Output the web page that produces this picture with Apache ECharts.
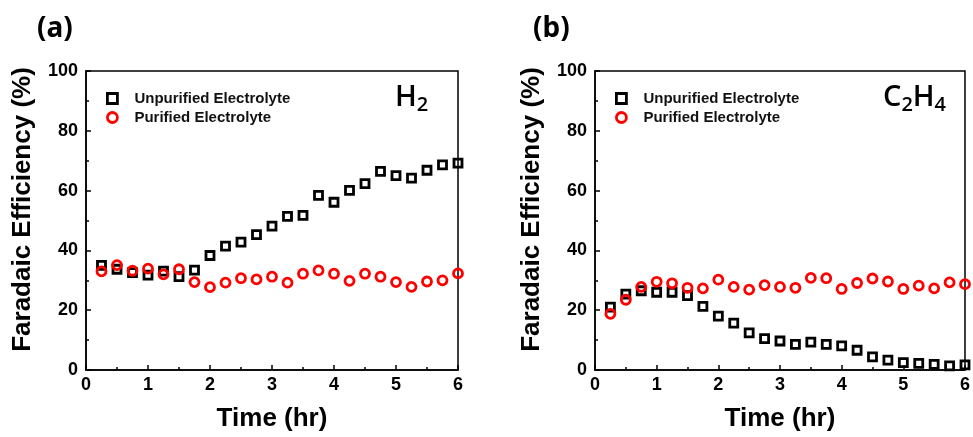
<!DOCTYPE html>
<html>
<head>
<meta charset="utf-8">
<script src="https://cdn.jsdelivr.net/npm/echarts@6/dist/echarts.min.js"></script>
<style>html,body{margin:0;padding:0;background:#fff}#c{width:973px;height:437px}</style>
</head>
<body>
<div id="c"></div>
<script>
const timeHr = [0.25,0.5,0.75,1.0,1.25,1.5,1.75,2.0,2.25,2.5,2.75,3.0,3.25,3.5,3.75,4.0,4.25,4.5,4.75,5.0,5.25,5.5,5.75,6.0];
const h2Unpurified = [35.0,33.7,32.6,31.7,33.1,31.2,33.4,38.3,41.4,42.8,45.3,48.1,51.4,51.7,58.4,56.1,60.1,62.3,66.4,65.0,64.2,66.8,68.6,69.2];
const h2Purified = [33.0,35.1,33.2,33.9,32.0,33.7,29.4,27.7,29.2,30.7,30.3,31.2,29.2,32.2,33.3,32.2,29.8,32.2,31.2,29.4,27.8,29.6,30.0,32.3];
const c2h4Unpurified = [21.0,25.4,26.5,26.0,26.0,24.9,21.3,18.0,15.7,12.4,10.5,9.7,8.6,9.3,8.6,8.1,6.6,4.4,3.3,2.5,2.2,1.9,1.4,1.7];
const c2h4Purified = [18.8,23.5,27.8,29.5,29.0,27.5,27.3,30.2,27.8,26.9,28.4,27.8,27.5,30.8,30.7,27.1,29.1,30.6,29.6,27.1,28.2,27.3,29.3,28.7];
const yTicks = [0,20,40,60,80,100];
const xTicks = [0,1,2,3,4,5,6];
const seriesNames = ['Unpurified Electrolyte','Purified Electrolyte'];
const panelLabels = ['(a)','(b)'];
const xTitle = 'Time (hr)';
const yTitle = 'Faradaic Efficiency (%)';

const pair = (xs, ys) => xs.map((x, i) => [x, ys[i]]);

const axisFont = {fontFamily:'Liberation Sans, Arial, sans-serif', fontWeight:'bold', color:'#000'};

function makeX(gi){
  return {
    type:'value', gridIndex:gi, min:xTicks[0], max:xTicks[xTicks.length-1], interval:1,
    axisLine:{show:true, onZero:false, lineStyle:{color:'#000', width:1.5}},
    axisTick:{show:true, inside:true, length:5, lineStyle:{color:'#000', width:1.5}},
    minorTick:{show:true, splitNumber:2, length:3, lineStyle:{color:'#000', width:1.5}},
    splitLine:{show:false},
    axisLabel:Object.assign({fontSize:18, margin:6}, axisFont),
    name:xTitle, nameLocation:'middle', nameGap:36,
    nameTextStyle:Object.assign({fontSize:26}, axisFont)
  };
}
function makeY(gi){
  return {
    type:'value', gridIndex:gi, min:yTicks[0], max:yTicks[yTicks.length-1], interval:20,
    axisLine:{show:true, onZero:false, lineStyle:{color:'#000', width:1.5}},
    axisTick:{show:true, inside:true, length:5, lineStyle:{color:'#000', width:1.5}},
    minorTick:{show:true, splitNumber:2, length:3, lineStyle:{color:'#000', width:1.5}},
    splitLine:{show:false},
    axisLabel:Object.assign({fontSize:18, margin:8}, axisFont),
    name:yTitle, nameLocation:'middle', nameGap:50, nameRotate:90,
    nameTextStyle:Object.assign({fontSize:26, padding:[0,0,0,22]}, axisFont)
  };
}
const sqStyle = {color:'transparent', borderColor:'#000', borderWidth:2.8, opacity:1};
const ciStyle = {color:'transparent', borderColor:'#ff0000', borderWidth:2.8, opacity:1};
function sq(gi, data){
  return {type:'scatter', name:seriesNames[0], xAxisIndex:gi, yAxisIndex:gi, symbol:'rect', symbolSize:8,
    itemStyle:sqStyle, data:data, clip:true};
}
function ci(gi, data){
  return {type:'scatter', name:seriesNames[1], xAxisIndex:gi, yAxisIndex:gi, symbol:'circle', symbolSize:9,
    itemStyle:ciStyle, data:data, clip:true};
}
function legend(left){
  return {
    left:left, top:91, orient:'vertical', padding:0, itemGap:4, itemWidth:10, itemHeight:10,
    data:seriesNames, selectedMode:false,
    itemStyle:{borderWidth:2.8, opacity:1},
    textStyle:{fontFamily:'Liberation Sans, Arial, sans-serif', fontWeight:'bold', fontSize:15, color:'#111', lineHeight:15, padding:[0,0,0,12]}
  };
}
const formulaRich = {
  m:{fontFamily:'Open Sans, Noto Sans', fontWeight:600, fontSize:29, lineHeight:28, verticalAlign:'top', color:'#000'},
  s:{fontFamily:'Open Sans, Noto Sans', fontWeight:600, fontSize:20, lineHeight:20, verticalAlign:'top', padding:[12,0,0,0], color:'#000'}
};
const panelFont = {fontFamily:'Noto Sans', fontWeight:'bold', fontSize:28, color:'#000'};

const chart = echarts.init(document.getElementById('c'), null, {renderer:'canvas'});
chart.setOption({
  backgroundColor:'#fff',
  animation:false,
  title:[
    {text:panelLabels[0], left:37, top:15, padding:0, textStyle:panelFont},
    {text:panelLabels[1], left:533, top:15, padding:0, textStyle:panelFont},
    {text:'{m|H}{s|2}', left:395, top:83, padding:0, textStyle:{fontWeight:600, rich:formulaRich}},
    {text:'{m|C}{s|2}{m|H}{s|4}', left:883, top:83, padding:0, textStyle:{fontWeight:600, rich:formulaRich}}
  ],
  legend:[legend(106), legend(615)],
  grid:[
    {left:86, top:71, width:372, height:300, show:true, borderColor:'#000', borderWidth:1.5, backgroundColor:'transparent'},
    {left:595, top:71, width:372, height:300, show:true, borderColor:'#000', borderWidth:1.5, backgroundColor:'transparent'}
  ],
  xAxis:[makeX(0), makeX(1)],
  yAxis:[makeY(0), makeY(1)],
  series:[
    sq(0, pair(timeHr, h2Unpurified)),
    ci(0, pair(timeHr, h2Purified)),
    sq(1, pair(timeHr, c2h4Unpurified)),
    ci(1, pair(timeHr, c2h4Purified))
  ]
});
</script>
</body>
</html>
